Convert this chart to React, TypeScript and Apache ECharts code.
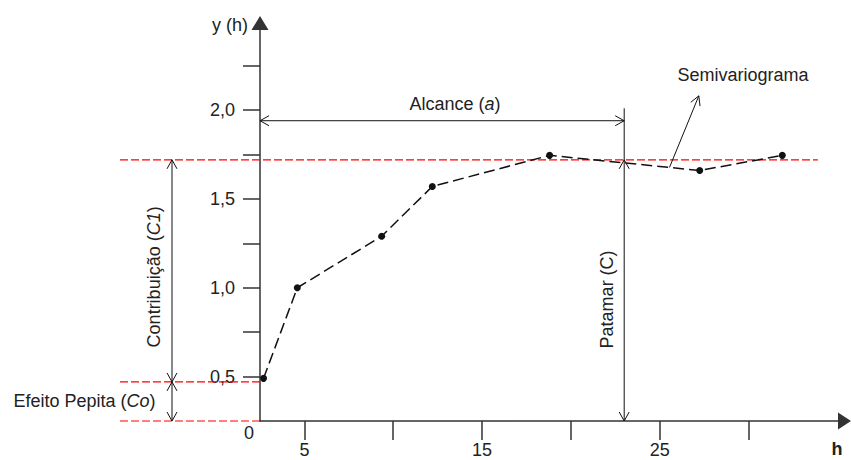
import React, { useEffect, useRef } from "react";
import * as echarts from "echarts";

// Semivariogram data (lag h, gamma(h))
const lagH = [2.7, 4.6, 9.35, 12.2, 18.8, 27.25, 31.9];
const gammaH = [0.49, 1.0, 1.29, 1.57, 1.745, 1.66, 1.745];

// Axis ticks and labels
const xTickValues = [5, 10, 15, 20, 25, 30];
const xLabelValues = [5, 15, 25];
const yTickValues = [0.5, 0.75, 1, 1.25, 1.5, 1.75, 2, 2.25];
const yLabelValues = [0.5, 1, 1.5, 2];

// Model parameters
const NUGGET = 0.47; // Efeito Pepita (Co)
const SILL = 1.72; // Patamar (C)
const RANGE = 23; // Alcance (a)

// Axis extents
const X_MIN = 2.5;
const X_MAX = 35.4;
const Y_MIN = 0.25;
const Y_MAX = 2.49;

// Guide line extents (data units)
const SILL_RIGHT = 33.9;
const ALCANCE_Y = 1.94;
const PATAMAR_TOP = 2.01;
const POINTER_FROM_X = 25.55;
const POINTER_TO = [27.2, 2.08];

const FONT = "'Liberation Sans', Arial, Helvetica, sans-serif";
const TXT = "#222";
const INK = "#111";
const RED = "#ff0000";

export default function App() {
  const ref = useRef<HTMLDivElement>(null);

  useEffect(() => {
    document.body.style.margin = "0";
    if (!ref.current) return;
    const chart = echarts.init(ref.current, undefined, { renderer: "svg" });

    chart.setOption({
      animation: false,
      backgroundColor: "#fff",
      grid: {
        left: 260,
        right: 6.5,
        top: 23,
        bottom: 39,
        containLabel: false,
        outerBoundsMode: "none",
      } as any,
      xAxis: {
        type: "value",
        min: X_MIN,
        max: X_MAX,
        splitLine: { show: false },
        axisLine: {
          show: true,
          onZero: false,
          symbol: ["none", "triangle"],
          symbolSize: [17, 13],
          lineStyle: { color: "#333", width: 1.5 },
        },
        axisTick: {
          show: true,
          length: 19,
          customValues: xTickValues,
          lineStyle: { color: "#333", width: 1.5 },
        },
        axisLabel: {
          show: true,
          customValues: xLabelValues,
          margin: 20,
          fontSize: 18,
          fontFamily: FONT,
          color: TXT,
        },
      } as any,
      yAxis: {
        type: "value",
        min: Y_MIN,
        max: Y_MAX,
        splitLine: { show: false },
        axisLine: {
          show: true,
          onZero: false,
          symbol: ["none", "triangle"],
          symbolSize: [17, 14],
          lineStyle: { color: "#333", width: 1.5 },
        },
        axisTick: {
          show: true,
          length: 17,
          customValues: yTickValues,
          lineStyle: { color: "#333", width: 1.5 },
        },
        axisLabel: {
          show: true,
          customValues: yLabelValues,
          margin: 25,
          fontSize: 18,
          fontFamily: FONT,
          color: TXT,
          formatter: (v: number) => v.toFixed(1).replace(".", ","),
        },
      } as any,
      series: [
        {
          name: "Semivariograma",
          type: "line",
          data: lagH.map((h, i) => [h, gammaH[i]]),
          symbol: "circle",
          symbolSize: 7,
          z: 3,
          itemStyle: { color: INK },
          lineStyle: { color: INK, width: 1.5, type: [11, 5] as any },
        },
      ],
    });

    // Annotation graphics placed through the axes' own scales
    const px = (x: number, y: number) =>
      chart.convertToPixel({ gridIndex: 0 } as any, [x, y]) as number[];
    const [x0, y0] = px(X_MIN, Y_MIN);
    const yS = px(X_MIN, SILL)[1];
    const yN = px(X_MIN, NUGGET)[1];
    const xR = px(RANGE, Y_MIN)[0];
    const xSR = px(SILL_RIGHT, Y_MIN)[0];
    const yA = px(X_MIN, ALCANCE_Y)[1];
    const yPT = px(X_MIN, PATAMAR_TOP)[1];
    const xV = x0 - 88;
    const xL = x0 - 140;

    // pointer start: on the segment of the data line containing POINTER_FROM_X
    let k = 0;
    while (k < lagH.length - 2 && lagH[k + 1] < POINTER_FROM_X) k++;
    const t = (POINTER_FROM_X - lagH[k]) / (lagH[k + 1] - lagH[k]);
    const pStart = px(POINTER_FROM_X, gammaH[k] + t * (gammaH[k + 1] - gammaH[k]));
    const pEnd = px(POINTER_TO[0], POINTER_TO[1]);

    const lineStyle = { stroke: INK, lineWidth: 1 };
    const seg = (a: number[], b: number[]) => ({
      type: "line",
      silent: true,
      z: 50,
      shape: { x1: a[0], y1: a[1], x2: b[0], y2: b[1] },
      style: lineStyle,
    });
    const red = (xa: number, xb: number, y: number) => ({
      type: "line",
      silent: true,
      z: 1,
      shape: { x1: xa, y1: y, x2: xb, y2: y },
      style: { stroke: RED, lineWidth: 1.2, lineDash: [8, 3] },
    });
    const head = (tx: number, ty: number, dx: number, dy: number) => {
      const n = Math.hypot(dx, dy);
      const ux = dx / n;
      const uy = dy / n;
      const L = 9;
      const W = 5;
      const bx = tx - ux * L;
      const by = ty - uy * L;
      return {
        type: "polyline",
        silent: true,
        z: 50,
        shape: {
          points: [
            [bx - uy * W, by + ux * W],
            [tx, ty],
            [bx + uy * W, by - ux * W],
          ],
        },
        style: { ...lineStyle, fill: null },
      };
    };
    const text = (
      x: number,
      y: number,
      str: string,
      extra: any = {},
      rotation = 0
    ) => ({
      type: "text",
      silent: true,
      z: 50,
      x,
      y,
      rotation,
      style: {
        text: str,
        fontSize: 18,
        fontFamily: FONT,
        fill: TXT,
        align: "center",
        verticalAlign: "middle",
        rich: {
          n: { fontSize: 18, fontFamily: FONT, fill: TXT },
          i: { fontSize: 18, fontFamily: FONT, fill: TXT, fontStyle: "italic" },
        },
        ...extra,
      },
    });

    chart.setOption({
      graphic: [
        // Red dashed guide lines
        red(xL, xSR, yS),
        red(xL, x0 + 2, yN),
        red(xL, x0 + 2, y0),
        // Contribuição / Efeito Pepita vertical arrows
        seg([xV, yS], [xV, y0]),
        head(xV, yS, 0, -1),
        head(xV, yN, 0, 1),
        head(xV, yN, 0, -1),
        head(xV, y0, 0, 1),
        // Alcance horizontal arrow
        seg([x0, yA], [xR, yA]),
        head(x0, yA, -1, 0),
        head(xR, yA, 1, 0),
        // Patamar vertical line + arrow
        seg([xR, yPT], [xR, y0]),
        head(xR, yS, 0, -1),
        head(xR, y0, 0, 1),
        // Semivariograma pointer
        seg(pStart, pEnd),
        head(pEnd[0], pEnd[1], pEnd[0] - pStart[0], pEnd[1] - pStart[1]),
        // Texts
        text(x0 - 12, 25, "y (h)", { align: "right" }),
        text(x0 - 11, y0 + 12, "0"),
        text(837, y0 + 28, "h", { fontWeight: "bold" }),
        text((x0 + xR) / 2 + 13, yA - 17, "{n|Alcance (}{i|a}{n|)}"),
        text(pStart[0] + 8, 75, "Semivariograma", { align: "left" }),
        text(xV - 18, (yS + yN) / 2 + 6, "{n|Contribuição (}{i|C1}{n|)}", {}, Math.PI / 2),
        text(84.5, (yN + y0) / 2, "{n|Efeito Pepita (}{i|Co}{n|)}"),
        text(xR - 17, (yS + y0) / 2 + 9, "Patamar (C)", {}, Math.PI / 2),
      ],
    });

    return () => chart.dispose();
  }, []);

  return <div ref={ref} style={{ width: 851, height: 460 }} />;
}
